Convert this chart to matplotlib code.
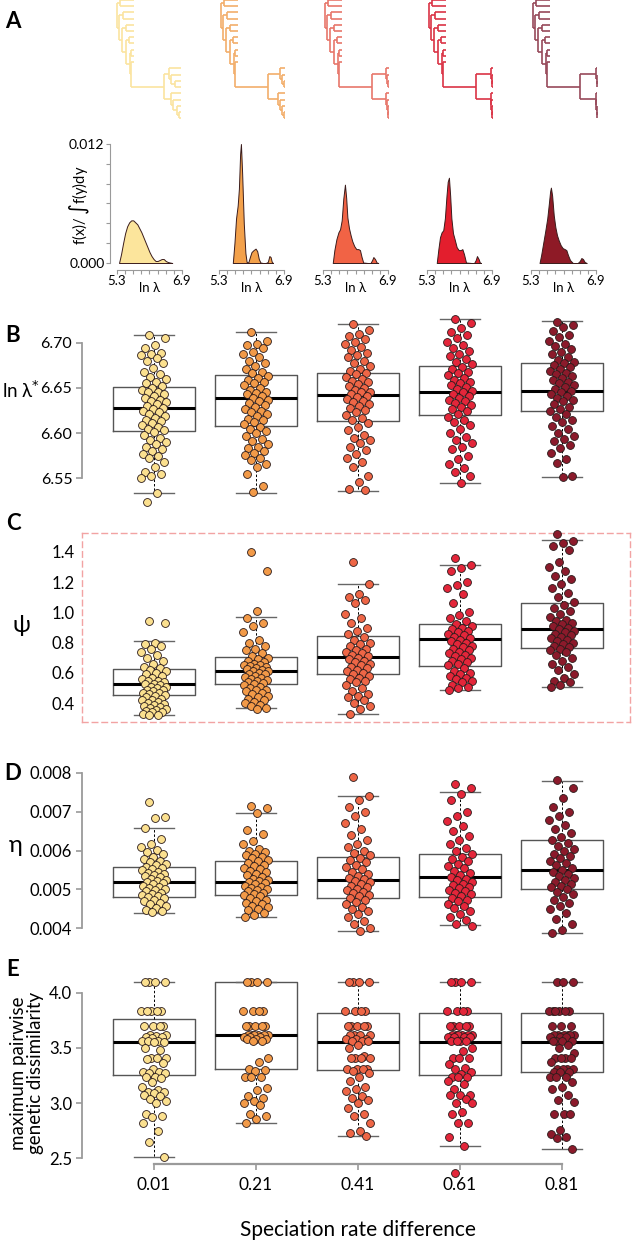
import numpy as np
import matplotlib.pyplot as plt

W, H = 634, 1244
plt.rcParams['font.family'] = ['Lato', 'DejaVu Sans']

groups = ["0.01", "0.21", "0.41", "0.61", "0.81"]
point_colors = ["#FBE08F", "#F29A48", "#EE6646", "#E3263A", "#8B1A2B"]
dens_colors = ["#FCE59C", "#F3A14B", "#F16345", "#E31E2D", "#8E1A26"]
tree_colors = ["#FBE4A0", "#F2AE6B", "#E7776B", "#DA3446", "#97495A"]

# ---- panel A: trees (newick, branch lengths) ----
trees = [
    "((a:14,b:14):3,((c:11,d:11):4,((e:8,f:8):4,((g:5,h:5):3,((i:3,j:3):1,(k:3,((l:12,(m:10,(n:6,o:6):4):2):5,(p:10,(q:8,(r:4,(s:2,t:2):2):4):2):7):33):1):4):4):3):2);",
    "((a:14,b:14):3,((c:11,d:11):4,((e:8,f:8):4,((g:5,h:5):3,((i:3,j:3):1,(k:3,((l:5,(m:3,(n:1,o:1):2):2):12,(p:7,(q:5,(r:3,(s:1,t:1):2):2):2):10):33):1):4):4):3):2);",
    "((a:14,b:14):3,((c:11,d:11):4,((e:8,f:8):4,((g:5,h:5):3,((i:3,j:3):1,(k:3,((l:3,(m:2,(n:1,o:1):1):1):14,(p:3,(q:2,(r:1,(s:0.5,t:0.5):0.5):1):1):14):33):1):4):4):3):2);",
    "((a:14,b:14):3,((c:11,d:11):4,((e:8,f:8):4,((g:5,h:5):3,((i:3,j:3):1,(k:3,((l:2,(m:1,(n:0.5,o:0.5):0.5):1):15,(p:2,(q:1.5,(r:1,(s:0.5,t:0.5):0.5):0.5):0.5):15):33):1):4):4):3):2);",
    "((a:14,b:14):3,((c:11,d:11):4,((e:8,f:8):4,((g:5,h:5):3,((i:3,j:3):1,(k:3,((l:1,(m:0.5,(n:0.3,o:0.3):0.2):0.5):16.5,(p:1,(q:0.6,(r:0.4,(s:0.2,t:0.2):0.2):0.2):0.4):16.5):33):1):4):4):3):2);",
]

# ---- panel A: densities (x = ln lambda, y in 1e-3) ----
dens_x = [
    [5.35, 5.40, 5.45, 5.50, 5.55, 5.60, 5.65, 5.70, 5.75, 5.80, 5.85, 5.90, 5.95, 6.00, 6.05, 6.10, 6.15, 6.20, 6.25, 6.30, 6.35, 6.40, 6.45, 6.50, 6.55, 6.60, 6.66],
    [5.64, 5.68, 5.72, 5.76, 5.79, 5.82, 5.84, 5.87, 5.91, 5.95, 5.98, 6.02, 6.06, 6.10, 6.15, 6.20, 6.24, 6.28, 6.32, 6.38, 6.45, 6.50, 6.54, 6.57, 6.60, 6.63],
    [5.54, 5.58, 5.63, 5.68, 5.72, 5.76, 5.80, 5.84, 5.87, 5.90, 5.94, 5.98, 6.02, 6.07, 6.12, 6.17, 6.21, 6.25, 6.29, 6.40, 6.47, 6.51, 6.54, 6.58, 6.62, 6.66],
    [5.54, 5.58, 5.62, 5.66, 5.70, 5.74, 5.78, 5.81, 5.84, 5.87, 5.90, 5.94, 5.98, 6.03, 6.08, 6.13, 6.17, 6.21, 6.26, 6.40, 6.46, 6.50, 6.53, 6.57, 6.60, 6.63],
    [5.51, 5.55, 5.60, 5.65, 5.70, 5.74, 5.77, 5.79, 5.82, 5.86, 5.90, 5.94, 5.98, 6.03, 6.08, 6.13, 6.17, 6.21, 6.26, 6.33, 6.45, 6.50, 6.54, 6.58, 6.62, 6.67],
]
dens_y = [
    [0.0, 0.9, 2.0, 3.0, 3.7, 4.1, 4.3, 4.3, 4.1, 3.9, 3.5, 3.1, 2.6, 2.1, 1.6, 1.1, 0.7, 0.4, 0.2, 0.2, 0.3, 0.4, 0.4, 0.2, 0.1, 0.05, 0.0],
    [0.0, 2.0, 4.5, 5.8, 7.5, 11.0, 12.0, 9.0, 4.0, 1.0, 0.1, 0.05, 0.6, 1.1, 1.3, 1.45, 1.2, 0.4, 0.05, 0.0, 0.0, 0.1, 0.7, 0.6, 0.1, 0.0],
    [0.0, 1.3, 2.4, 3.1, 3.4, 4.3, 6.5, 7.9, 6.6, 4.6, 3.5, 2.8, 2.2, 1.7, 1.4, 1.4, 1.3, 0.6, 0.05, 0.0, 0.0, 0.3, 0.6, 0.4, 0.05, 0.0],
    [0.0, 1.4, 2.6, 3.1, 3.3, 4.5, 6.8, 8.2, 8.6, 6.8, 4.5, 3.0, 2.4, 1.6, 1.3, 1.3, 1.4, 0.9, 0.05, 0.0, 0.0, 0.3, 0.7, 0.4, 0.05, 0.0],
    [0.0, 0.8, 2.0, 3.2, 4.5, 6.0, 7.2, 7.6, 6.8, 4.8, 3.6, 2.8, 2.3, 1.8, 1.5, 1.4, 1.3, 0.8, 0.3, 0.0, 0.0, 0.2, 0.5, 0.4, 0.1, 0.0],
]

# ---- panel B: ln lambda* ----
B_q1 = [6.602, 6.608, 6.613, 6.620, 6.624]
B_med = [6.628, 6.639, 6.642, 6.6455, 6.647]
B_q3 = [6.651, 6.664, 6.667, 6.674, 6.678]
B_lo = [6.534, 6.534, 6.536, 6.545, 6.551]
B_hi = [6.709, 6.712, 6.721, 6.726, 6.724]
B_pts = [
    [6.709, 6.705, 6.697, 6.694, 6.689, 6.688, 6.686, 6.683, 6.680, 6.677, 6.672, 6.668, 6.665, 6.662, 6.660, 6.657, 6.655, 6.652, 6.650, 6.648, 6.646, 6.645, 6.643, 6.641, 6.639, 6.637, 6.636, 6.634, 6.632, 6.630, 6.628, 6.627, 6.625, 6.623, 6.621, 6.619, 6.617, 6.615, 6.613, 6.611, 6.609, 6.607, 6.605, 6.603, 6.601, 6.598, 6.595, 6.592, 6.590, 6.588, 6.585, 6.582, 6.580, 6.577, 6.575, 6.572, 6.568, 6.562, 6.557, 6.555, 6.553, 6.550, 6.534, 6.524],
    [6.712, 6.702, 6.699, 6.697, 6.694, 6.690, 6.688, 6.684, 6.680, 6.677, 6.674, 6.671, 6.668, 6.666, 6.663, 6.661, 6.659, 6.657, 6.655, 6.653, 6.650, 6.648, 6.646, 6.644, 6.643, 6.641, 6.639, 6.637, 6.635, 6.633, 6.631, 6.629, 6.627, 6.625, 6.623, 6.621, 6.619, 6.616, 6.614, 6.612, 6.610, 6.607, 6.605, 6.602, 6.600, 6.597, 6.594, 6.591, 6.588, 6.585, 6.583, 6.580, 6.578, 6.576, 6.573, 6.570, 6.566, 6.563, 6.555, 6.541, 6.535],
    [6.721, 6.714, 6.710, 6.707, 6.704, 6.701, 6.699, 6.695, 6.692, 6.689, 6.686, 6.684, 6.680, 6.677, 6.674, 6.671, 6.669, 6.667, 6.665, 6.662, 6.660, 6.658, 6.656, 6.654, 6.652, 6.650, 6.648, 6.646, 6.645, 6.643, 6.641, 6.640, 6.638, 6.636, 6.634, 6.632, 6.630, 6.628, 6.626, 6.623, 6.620, 6.617, 6.614, 6.611, 6.607, 6.603, 6.598, 6.595, 6.592, 6.589, 6.585, 6.581, 6.577, 6.572, 6.568, 6.562, 6.552, 6.546, 6.538, 6.537],
    [6.726, 6.722, 6.716, 6.712, 6.708, 6.705, 6.701, 6.698, 6.694, 6.691, 6.688, 6.685, 6.682, 6.679, 6.676, 6.673, 6.671, 6.668, 6.666, 6.664, 6.661, 6.659, 6.657, 6.655, 6.653, 6.651, 6.649, 6.647, 6.645, 6.643, 6.641, 6.639, 6.637, 6.635, 6.633, 6.631, 6.629, 6.627, 6.624, 6.621, 6.618, 6.615, 6.612, 6.609, 6.605, 6.600, 6.596, 6.592, 6.589, 6.585, 6.582, 6.575, 6.571, 6.566, 6.561, 6.557, 6.552, 6.545],
    [6.723, 6.720, 6.717, 6.713, 6.709, 6.706, 6.702, 6.699, 6.696, 6.693, 6.690, 6.687, 6.684, 6.681, 6.679, 6.677, 6.675, 6.673, 6.671, 6.669, 6.667, 6.665, 6.663, 6.661, 6.659, 6.657, 6.655, 6.653, 6.651, 6.649, 6.647, 6.645, 6.643, 6.641, 6.639, 6.637, 6.635, 6.632, 6.629, 6.627, 6.624, 6.621, 6.618, 6.615, 6.612, 6.608, 6.604, 6.600, 6.597, 6.594, 6.591, 6.587, 6.583, 6.578, 6.571, 6.567, 6.553, 6.551],
]

# ---- panel C: psi ----
C_q1 = [0.455, 0.525, 0.591, 0.646, 0.763]
C_med = [0.527, 0.615, 0.707, 0.824, 0.890]
C_q3 = [0.626, 0.703, 0.842, 0.925, 1.060]
C_lo = [0.321, 0.367, 0.330, 0.486, 0.507]
C_hi = [0.809, 0.971, 1.187, 1.314, 1.477]
C_pts = [
    [0.94, 0.93, 0.80, 0.79, 0.78, 0.76, 0.74, 0.72, 0.70, 0.68, 0.66, 0.64, 0.63, 0.62, 0.61, 0.60, 0.59, 0.58, 0.57, 0.56, 0.55, 0.545, 0.54, 0.53, 0.525, 0.52, 0.51, 0.505, 0.50, 0.49, 0.485, 0.48, 0.47, 0.465, 0.46, 0.455, 0.45, 0.44, 0.43, 0.425, 0.42, 0.41, 0.40, 0.395, 0.39, 0.38, 0.375, 0.37, 0.36, 0.355, 0.35, 0.345, 0.34, 0.33, 0.325, 0.32],
    [1.40, 1.27, 1.01, 0.96, 0.93, 0.91, 0.87, 0.82, 0.80, 0.78, 0.76, 0.75, 0.73, 0.71, 0.70, 0.69, 0.68, 0.67, 0.66, 0.655, 0.65, 0.645, 0.64, 0.63, 0.625, 0.62, 0.615, 0.61, 0.60, 0.595, 0.59, 0.58, 0.575, 0.57, 0.56, 0.555, 0.55, 0.54, 0.535, 0.53, 0.52, 0.51, 0.50, 0.49, 0.485, 0.48, 0.47, 0.46, 0.45, 0.44, 0.43, 0.42, 0.41, 0.40, 0.39, 0.38, 0.37, 0.365],
    [1.33, 1.19, 1.12, 1.10, 1.08, 1.06, 0.99, 0.96, 0.93, 0.90, 0.88, 0.86, 0.84, 0.82, 0.80, 0.79, 0.78, 0.76, 0.75, 0.74, 0.73, 0.72, 0.71, 0.70, 0.69, 0.68, 0.67, 0.66, 0.65, 0.64, 0.63, 0.62, 0.61, 0.60, 0.59, 0.58, 0.57, 0.56, 0.55, 0.54, 0.52, 0.50, 0.48, 0.46, 0.45, 0.44, 0.42, 0.40, 0.38, 0.36, 0.33],
    [1.36, 1.31, 1.29, 1.27, 1.20, 1.18, 1.16, 1.12, 1.06, 1.00, 0.98, 0.96, 0.94, 0.92, 0.91, 0.90, 0.89, 0.88, 0.87, 0.86, 0.85, 0.84, 0.83, 0.82, 0.81, 0.80, 0.79, 0.78, 0.77, 0.76, 0.75, 0.74, 0.73, 0.72, 0.71, 0.70, 0.69, 0.68, 0.67, 0.66, 0.65, 0.63, 0.61, 0.60, 0.59, 0.58, 0.57, 0.56, 0.55, 0.54, 0.52, 0.51, 0.50, 0.49],
    [1.52, 1.47, 1.46, 1.44, 1.41, 1.33, 1.30, 1.27, 1.24, 1.22, 1.19, 1.16, 1.13, 1.10, 1.07, 1.05, 1.03, 1.01, 0.99, 0.97, 0.95, 0.94, 0.93, 0.92, 0.91, 0.90, 0.89, 0.88, 0.87, 0.86, 0.85, 0.84, 0.83, 0.82, 0.81, 0.80, 0.79, 0.78, 0.77, 0.76, 0.75, 0.74, 0.72, 0.70, 0.68, 0.66, 0.64, 0.62, 0.59, 0.57, 0.55, 0.54, 0.52, 0.51],
]

# ---- panel D: eta ----
D_q1 = [0.00481, 0.004856, 0.00478, 0.00480, 0.00501]
D_med = [0.00519, 0.00519, 0.005242, 0.00532, 0.00550]
D_q3 = [0.005576, 0.005738, 0.00583, 0.00591, 0.00627]
D_lo = [0.00440, 0.00429, 0.00393, 0.00408, 0.00388]
D_hi = [0.00657, 0.006956, 0.00740, 0.00750, 0.00780]
D_pts = [
    [0.00726, 0.00686, 0.00683, 0.00657, 0.00630, 0.00618, 0.00610, 0.00602, 0.00596, 0.00590, 0.00584, 0.00578, 0.00574, 0.00570, 0.00566, 0.00562, 0.00558, 0.00555, 0.00552, 0.00549, 0.00546, 0.00543, 0.00540, 0.00537, 0.00534, 0.00531, 0.00528, 0.00525, 0.00522, 0.00519, 0.00516, 0.00513, 0.00510, 0.00507, 0.00504, 0.00501, 0.00498, 0.00495, 0.00492, 0.00489, 0.00486, 0.00483, 0.00480, 0.00477, 0.00474, 0.00470, 0.00466, 0.00462, 0.00458, 0.00453, 0.00448, 0.00444, 0.00441],
    [0.00715, 0.00710, 0.00696, 0.00652, 0.00643, 0.00625, 0.00618, 0.00604, 0.00600, 0.00596, 0.00592, 0.00588, 0.00584, 0.00580, 0.00576, 0.00572, 0.00568, 0.00564, 0.00560, 0.00556, 0.00552, 0.00548, 0.00544, 0.00540, 0.00536, 0.00532, 0.00528, 0.00525, 0.00522, 0.00519, 0.00516, 0.00513, 0.00510, 0.00507, 0.00504, 0.00501, 0.00498, 0.00495, 0.00492, 0.00489, 0.00486, 0.00482, 0.00478, 0.00474, 0.00470, 0.00466, 0.00462, 0.00458, 0.00454, 0.00450, 0.00446, 0.00440, 0.00434, 0.00429],
    [0.00790, 0.00740, 0.00730, 0.00712, 0.00700, 0.00688, 0.00670, 0.00655, 0.00640, 0.00628, 0.00618, 0.00608, 0.00600, 0.00594, 0.00588, 0.00582, 0.00576, 0.00570, 0.00564, 0.00558, 0.00552, 0.00546, 0.00540, 0.00535, 0.00530, 0.00526, 0.00522, 0.00518, 0.00514, 0.00510, 0.00506, 0.00502, 0.00498, 0.00494, 0.00490, 0.00486, 0.00482, 0.00478, 0.00474, 0.00468, 0.00462, 0.00456, 0.00450, 0.00444, 0.00438, 0.00430, 0.00420, 0.00410, 0.00400, 0.00393],
    [0.00772, 0.00760, 0.00745, 0.00730, 0.00700, 0.00690, 0.00675, 0.00662, 0.00650, 0.00638, 0.00626, 0.00616, 0.00606, 0.00598, 0.00590, 0.00584, 0.00578, 0.00572, 0.00566, 0.00560, 0.00554, 0.00548, 0.00542, 0.00536, 0.00531, 0.00527, 0.00523, 0.00519, 0.00515, 0.00511, 0.00507, 0.00503, 0.00499, 0.00495, 0.00491, 0.00487, 0.00483, 0.00479, 0.00474, 0.00469, 0.00463, 0.00457, 0.00451, 0.00445, 0.00438, 0.00430, 0.00421, 0.00412, 0.00405],
    [0.00782, 0.00760, 0.00735, 0.00712, 0.00700, 0.00690, 0.00678, 0.00666, 0.00655, 0.00645, 0.00636, 0.00628, 0.00620, 0.00612, 0.00605, 0.00598, 0.00592, 0.00586, 0.00580, 0.00574, 0.00568, 0.00562, 0.00556, 0.00550, 0.00545, 0.00540, 0.00535, 0.00530, 0.00525, 0.00520, 0.00515, 0.00510, 0.00505, 0.00500, 0.00494, 0.00488, 0.00480, 0.00472, 0.00465, 0.00458, 0.00450, 0.00440, 0.00425, 0.00410, 0.00395, 0.00387],
]

# ---- panel E: maximum pairwise genetic dissimilarity ----
E_q1 = [3.255, 3.309, 3.297, 3.255, 3.282]
E_med = [3.553, 3.614, 3.553, 3.553, 3.553]
E_q3 = [3.762, 4.10, 3.819, 3.819, 3.819]
E_lo = [2.509, 2.823, 2.702, 2.609, 2.581]
E_hi = [4.10, 4.10, 4.10, 4.10, 4.10]
E_pts = [
    [4.10, 4.10, 4.10, 4.10, 3.83, 3.83, 3.83, 3.83, 3.83, 3.70, 3.70, 3.70, 3.70, 3.62, 3.62, 3.61, 3.60, 3.60, 3.59, 3.56, 3.56, 3.56, 3.55, 3.55, 3.50, 3.48, 3.41, 3.41, 3.41, 3.40, 3.36, 3.31, 3.28, 3.28, 3.27, 3.27, 3.24, 3.24, 3.23, 3.19, 3.15, 3.12, 3.10, 3.10, 3.09, 3.07, 3.06, 3.04, 3.02, 3.00, 2.90, 2.88, 2.87, 2.82, 2.75, 2.65, 2.51],
    [4.10, 4.10, 4.10, 4.10, 3.83, 3.83, 3.83, 3.83, 3.70, 3.70, 3.70, 3.70, 3.70, 3.62, 3.62, 3.62, 3.62, 3.62, 3.62, 3.60, 3.60, 3.60, 3.58, 3.58, 3.58, 3.56, 3.56, 3.41, 3.37, 3.31, 3.30, 3.29, 3.24, 3.24, 3.24, 3.14, 3.12, 3.06, 3.05, 3.02, 3.00, 2.98, 2.90, 2.88, 2.86, 2.82],
    [4.10, 4.10, 4.10, 4.10, 3.83, 3.83, 3.83, 3.83, 3.70, 3.70, 3.70, 3.70, 3.70, 3.62, 3.62, 3.62, 3.62, 3.58, 3.58, 3.58, 3.56, 3.56, 3.56, 3.53, 3.50, 3.43, 3.41, 3.41, 3.41, 3.41, 3.31, 3.31, 3.31, 3.31, 3.29, 3.27, 3.24, 3.20, 3.15, 3.13, 3.11, 3.06, 3.05, 3.03, 3.00, 2.96, 2.90, 2.88, 2.82, 2.75, 2.73, 2.70],
    [4.10, 4.10, 4.10, 4.10, 3.83, 3.83, 3.83, 3.83, 3.70, 3.70, 3.70, 3.70, 3.70, 3.62, 3.62, 3.62, 3.62, 3.62, 3.62, 3.60, 3.60, 3.60, 3.60, 3.56, 3.56, 3.56, 3.56, 3.50, 3.47, 3.41, 3.41, 3.41, 3.35, 3.32, 3.31, 3.28, 3.26, 3.24, 3.24, 3.24, 3.20, 3.17, 3.13, 3.07, 3.07, 3.07, 3.04, 3.00, 3.00, 2.92, 2.90, 2.82, 2.82, 2.69, 2.61, 2.37],
    [4.10, 4.10, 4.10, 3.83, 3.83, 3.83, 3.83, 3.83, 3.83, 3.70, 3.70, 3.70, 3.62, 3.62, 3.62, 3.62, 3.62, 3.62, 3.60, 3.60, 3.60, 3.56, 3.56, 3.56, 3.56, 3.53, 3.50, 3.45, 3.41, 3.41, 3.41, 3.41, 3.37, 3.31, 3.31, 3.31, 3.31, 3.28, 3.28, 3.28, 3.24, 3.24, 3.24, 3.19, 3.15, 3.13, 3.07, 3.03, 3.01, 2.90, 2.90, 2.90, 2.76, 2.72, 2.69, 2.68, 2.58],
]


fig = plt.figure(figsize=(W / 100, H / 100), dpi=100)


def px_axes(left, top, width, height):
    return fig.add_axes([left / W, 1 - (top + height) / H, width / W, height / H])


def lim_from_px(top, bottom, v1, y1, v2, y2):
    # v1 sits at pixel row y1 and v2 at y2 in the reference
    k = (v1 - v2) / (y2 - y1)
    return v2 - (bottom - y2) * k, v1 + (y1 - top) * k


def ftext(x, y, s, **kw):
    fig.text(x / W, 1 - y / H, s, **kw)


def parse_newick(s):
    pos = 0

    def node():
        nonlocal pos
        kids = []
        if s[pos] == '(':
            pos += 1
            kids.append(node())
            while s[pos] == ',':
                pos += 1
                kids.append(node())
            pos += 1
        while s[pos] not in ':,);':
            pos += 1
        ln = 0.0
        if s[pos] == ':':
            pos += 1
            st = pos
            while s[pos] not in ',);':
                pos += 1
            ln = float(s[st:pos])
        return kids, ln

    return node()


def tree_segments(tree, x0, tips, segs):
    kids, ln = tree
    x = x0 + ln
    if not kids:
        y = len(tips)
        tips.append(y)
        segs.append(((x0, x), (y, y)))
        return y
    ys = [tree_segments(k, x, tips, segs) for k in kids]
    y = (ys[0] + ys[-1]) / 2
    segs.append(((x, x), (ys[0], ys[-1])))
    segs.append(((x0, x), (y, y)))
    return y


# trees
tree_left = [116, 220, 324, 428, 532]
for i, nw in enumerate(trees):
    ax = px_axes(tree_left[i], -2, 70, 124)
    segs = []
    tree_segments(parse_newick(nw), 0, [], segs)
    for xs, ys in segs:
        ax.plot(xs, ys, color=tree_colors[i], lw=1.2, solid_capstyle='butt')
    ax.set_xlim(-0.5, 69.5)
    ax.set_ylim(19.6, -0.3)
    ax.axis('off')

# densities
dens_left = [117, 219, 323, 427, 531]
for i in range(5):
    ax = px_axes(dens_left[i], 144, 65, 119)
    x = np.array(dens_x[i])
    y = np.array(dens_y[i]) / 1000
    ax.fill_between(x, 0, y, facecolor=dens_colors[i], edgecolor='#3a1c1c', lw=0.7)
    ax.set_xlim(5.3, 6.9)
    ax.set_ylim(0, 0.012)
    for sp in ['top', 'right']:
        ax.spines[sp].set_visible(False)
    ax.spines['bottom'].set_position(('outward', 5))
    ax.spines['bottom'].set_color('#9a9a9a')
    ax.spines['bottom'].set_bounds(5.3, 6.9)
    xt = np.round(np.arange(5.3, 6.91, 0.2), 1)
    ax.set_xticks(xt)
    ax.set_xticklabels(['5.3'] + [''] * (len(xt) - 2) + ['6.9'])
    ax.tick_params(axis='x', length=3, color='#9a9a9a', labelsize=9.5, pad=1)
    ax.set_xlabel('ln λ', fontsize=9.5, labelpad=-4)
    if i == 0:
        ax.spines['left'].set_position(('outward', 5))
        ax.spines['left'].set_color('#9a9a9a')
        yt = np.round(np.arange(0, 0.0121, 0.002), 3)
        ax.set_yticks(yt)
        ax.set_yticklabels(['0.000'] + [''] * (len(yt) - 2) + ['0.012'])
        ax.tick_params(axis='y', length=3, color='#9a9a9a', labelsize=10, pad=1)
    else:
        ax.spines['left'].set_visible(False)
        ax.set_yticks([])
    ax.patch.set_alpha(0)

ftext(80, 205, r'f(x)/ $\int$f(y)dy', rotation=90, ha='center', va='center', fontsize=10.5)

# box panels
pos = np.arange(1, 6)
xlim = (1 - 72 / 102, 5 + 68 / 102)


def jitter(n, half=0.125):
    return ((np.arange(n) * 0.618034 + 0.3) % 1 - 0.5) * 2 * half


def box_panel(top, bottom, q1, med, q3, lo, hi, pts, ref, ticks, fmt, tsize=12):
    ax = px_axes(82, top, 548, bottom - top)
    stats = [dict(med=med[j], q1=q1[j], q3=q3[j], whislo=lo[j], whishi=hi[j], fliers=[])
             for j in range(5)]
    ax.bxp(stats, positions=pos, widths=0.8, capwidths=0.4, showfliers=False,
           boxprops=dict(color='#555555', lw=1.0),
           medianprops=dict(color='black', lw=2.2),
           whiskerprops=dict(color='black', lw=0.7, ls=(0, (2.5, 2))),
           capprops=dict(color='#666666', lw=1.0))
    for j in range(5):
        v = np.array(pts[j])
        ax.scatter(pos[j] + jitter(len(v)), v, s=32, color=point_colors[j],
                   edgecolors='#2a1a1a', linewidths=0.6, zorder=3, clip_on=False)
    ax.set_xlim(*xlim)
    ax.set_ylim(*lim_from_px(top, bottom, *ref))
    ax.set_yticks(ticks)
    ax.set_yticklabels([fmt % t for t in ticks])
    ax.tick_params(axis='y', length=4, width=1.2, color='#9a9a9a', labelsize=tsize, pad=3)
    ax.set_xticks([])
    for sp in ['top', 'right', 'bottom']:
        ax.spines[sp].set_visible(False)
    ax.spines['left'].set_color('#9a9a9a')
    ax.spines['left'].set_linewidth(1.3)
    ax.spines['left'].set_bounds(ticks[0], ticks[-1])
    ax.patch.set_alpha(0)
    return ax


axB = box_panel(300, 510, B_q1, B_med, B_q3, B_lo, B_hi, B_pts,
                (6.70, 342.7, 6.55, 478.3), [6.55, 6.60, 6.65, 6.70], '%.2f', tsize=11.5)

axC = box_panel(533, 722, C_q1, C_med, C_q3, C_lo, C_hi, C_pts,
                (1.4, 551.7, 0.4, 703.3), [0.4, 0.6, 0.8, 1.0, 1.2, 1.4], '%.1f')
for sp in ['top', 'right', 'bottom', 'left']:
    axC.spines[sp].set_visible(True)
    axC.spines[sp].set_color('#F2A3A3')
    axC.spines[sp].set_linestyle((0, (4, 3)))
    axC.spines[sp].set_linewidth(1.0)
axC.spines['left'].set_bounds(*axC.get_ylim())
axC.tick_params(axis='y', length=0, pad=5)

axD = box_panel(760, 945, D_q1, D_med, D_q3, D_lo, D_hi, D_pts,
                (0.008, 772.8, 0.004, 928.3), [0.004, 0.005, 0.006, 0.007, 0.008], '%.3f')

axE = box_panel(970, 1164, E_q1, E_med, E_q3, E_lo, E_hi, E_pts,
                (4.0, 992.7, 2.5, 1158.3), [2.5, 3.0, 3.5, 4.0], '%.1f')
axE.spines['bottom'].set_visible(True)
axE.spines['bottom'].set_color('#9a9a9a')
axE.spines['bottom'].set_linewidth(1.6)
axE.spines['bottom'].set_bounds(1, 5)
axE.set_xticks(pos)
axE.set_xticklabels(groups)
axE.tick_params(axis='x', length=4, width=1.2, color='#9a9a9a', labelsize=12.5, pad=5)

# labels
ftext(2, 390, r'ln λ$^{*}$', ha='left', va='center', fontsize=13.5)
ftext(21, 625, 'ψ', ha='center', va='center', fontsize=17)
ftext(16, 845, 'η', ha='center', va='center', fontsize=17)
ftext(27, 1073, 'maximum pairwise\ngenetic dissimilarity', rotation=90,
      ha='center', va='center', fontsize=13.5, linespacing=1.05)
ftext(358, 1230, 'Speciation rate difference', ha='center', va='center', fontsize=15)

for letter, yy in zip('ABCDE', [22, 335, 523, 773, 970]):
    ftext(13, yy, letter, ha='center', va='center', fontsize=16, fontweight='bold')

fig.savefig('out.png', dpi=100)
